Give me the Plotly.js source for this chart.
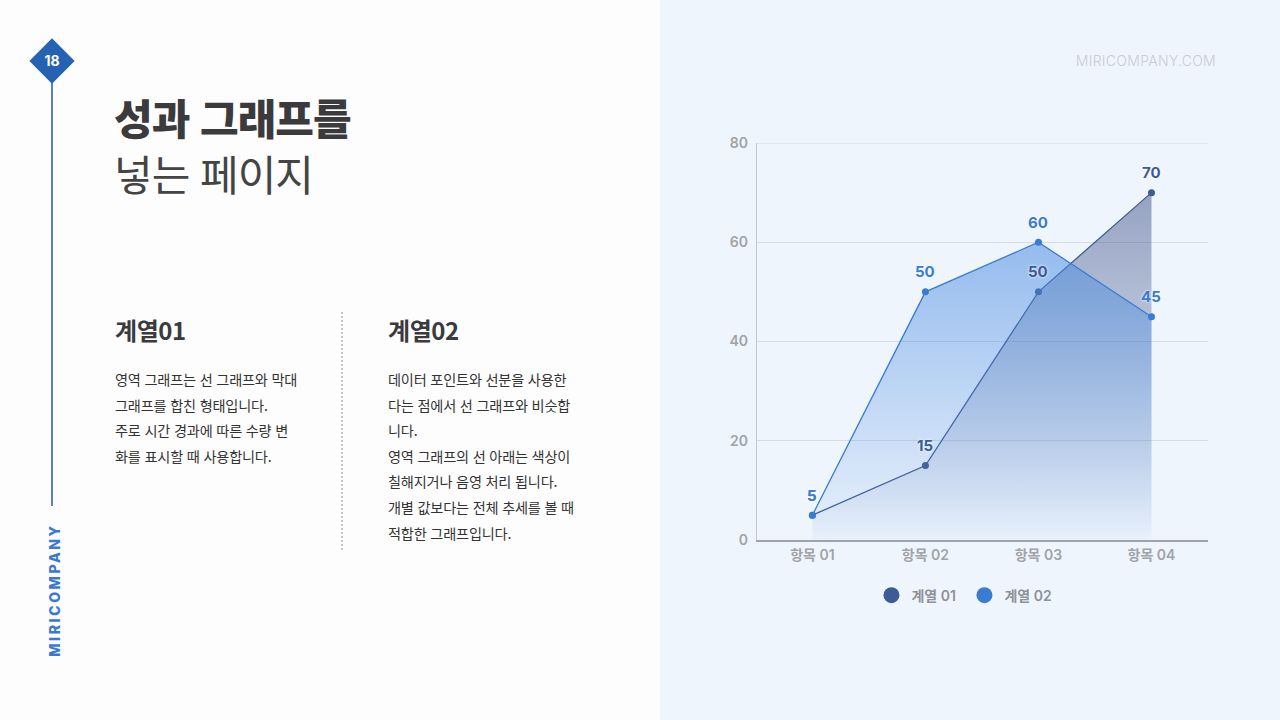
<!DOCTYPE html>
<html lang="ko">
<head>
<meta charset="utf-8">
<script src="https://cdn.plot.ly/plotly-3.0.1.min.js"></script>
<style>
  html, body { margin: 0; padding: 0; }
  body {
    width: 1280px; height: 720px; overflow: hidden; position: relative;
    background: #fdfdfe;
    font-family: "Noto Sans CJK KR", "Noto Sans", sans-serif;
    color: #3a3a3a;
  }
  .right-panel { position: absolute; left: 660px; top: 0; width: 620px; height: 720px; background: #eff5fd; }
  .rule { position: absolute; left: 51px; top: 70px; width: 2px; height: 436px; background: #5b80c9; }
  .diamond {
    position: absolute; left: 36px; top: 45px; width: 32px; height: 32px;
    background: #2563b2; transform: rotate(45deg);
  }
  .page-no {
    position: absolute; left: 32px; top: 51px; width: 40px; line-height: 22px; padding-top: 1px;
    text-align: center; color: #fff; font: 700 14px Inter, "Noto Sans", sans-serif;
  }
  .brand {
    position: absolute; left: 54px; top: 590px; transform: translate(-50%, -50%) rotate(-90deg);
    color: #3b79cf; font: 800 14px Inter, "Noto Sans", sans-serif; letter-spacing: 2.6px; white-space: nowrap;
  }
  .site {
    position: absolute; right: 64px; top: 52px; color: #c8ccd4;
    font: 300 14px Inter, "Noto Sans", sans-serif; letter-spacing: 0.3px;
  }
  .title1 { position: absolute; left: 114px; top: 92px; font-size: 42px; font-weight: 800; line-height: 50px; color: #3b3b3d; letter-spacing: -1px; }
  .title2 { position: absolute; left: 114px; top: 148px; font-size: 42px; font-weight: 400; line-height: 50px; color: #444; letter-spacing: -1px; }
  .col { position: absolute; top: 312px; }
  .col h2 { margin: 0; font-size: 24px; font-weight: 700; line-height: 36px; color: #3b3b3d; letter-spacing: -0.4px; }
  .col p { margin: 19px 0 0 0; font-size: 14.2px; line-height: 25.6px; color: #333; letter-spacing: -0.2px; }
  .divider { position: absolute; left: 341px; top: 312px; height: 238px; border-left: 2px dotted #c3c6cc; }
  #chart { position: absolute; left: 660px; top: 0; width: 620px; height: 720px; }
</style>
</head>
<body>
<div class="right-panel"></div>
<div class="rule"></div>
<div class="diamond"></div>
<div class="page-no">18</div>
<div class="brand">MIRICOMPANY</div>
<div class="site">MIRICOMPANY.COM</div>

<div class="title1">성과 그래프를</div>
<div class="title2">넣는 페이지</div>

<div class="col" style="left:115px; width:220px;">
  <h2>계열01</h2>
  <p>영역 그래프는 선 그래프와 막대<br>그래프를 합친 형태입니다.<br>주로 시간 경과에 따른 수량 변<br>화를 표시할 때 사용합니다.</p>
</div>
<div class="divider"></div>
<div class="col" style="left:388px; width:220px;">
  <h2>계열02</h2>
  <p>데이터 포인트와 선분을 사용한<br>다는 점에서 선 그래프와 비슷합<br>니다.<br>영역 그래프의 선 아래는 색상이<br>칠해지거나 음영 처리 됩니다.<br>개별 값보다는 전체 추세를 볼 때<br>적합한 그래프입니다.</p>
</div>

<div id="chart"></div>

<script>
// chart data
const categories = ['항목 01', '항목 02', '항목 03', '항목 04'];
const series1 = [5, 15, 50, 70];
const series2 = [5, 50, 60, 45];
const seriesNames = ['계열 01', '계열 02'];
const yTicks = [0, 20, 40, 60, 80];

const navy = '#3f5b96';
const blue = '#3a7cd4';
const fontFamily = 'Inter, "Noto Sans CJK KR", sans-serif';

function areaTrace(values, name, color, bottomColor, topColor) {
    return {
        x: categories,
        y: values,
        name: name,
        type: 'scatter',
        mode: 'lines+markers',
        fill: 'tozeroy',
        fillgradient: {
            type: 'vertical',
            start: 0,
            stop: Math.max(...values),
            colorscale: [[0, bottomColor], [1, topColor]]
        },
        line: { color: color, width: 1.3 },
        marker: { color: color, size: 7 },
        showlegend: false,
        hoverinfo: 'skip'
    };
}

// legend-only entries, drawn as plain circles
function legendTrace(name, color) {
    return {
        x: [null], y: [null], name: name, type: 'scatter', mode: 'markers',
        marker: { color: color, size: 16 }, showlegend: true
    };
}

const data = [
    areaTrace(series1, seriesNames[0], navy, 'rgba(60,80,135,0)', 'rgba(60,80,135,0.5)'),
    areaTrace(series2, seriesNames[1], blue, 'rgba(74,140,225,0.04)', 'rgba(74,140,225,0.55)'),
    legendTrace(seriesNames[0], navy),
    legendTrace(seriesNames[1], blue)
];

// value labels above each point
function labels(values, color) {
    return values.map((v, i) => ({
        x: categories[i], y: v, text: String(v),
        showarrow: false, yshift: 20,
        font: { family: fontFamily, size: 15, color: color, weight: 700, shadow: '0px 0px 3px #ffffff' }
    }));
}

const layout = {
    width: 620,
    height: 720,
    paper_bgcolor: 'rgba(0,0,0,0)',
    plot_bgcolor: 'rgba(0,0,0,0)',
    margin: { l: 97, r: 72, t: 143, b: 180, pad: 0 },
    font: { family: fontFamily, color: '#9a9da3' },
    xaxis: {
        type: 'category',
        range: [-0.49, 3.5],
        showline: true,
        linecolor: '#9ea3ae',
        linewidth: 1.5,
        showgrid: false,
        ticks: '',
        tickfont: { size: 14, color: '#a0a3a8', weight: 600 },
        ticklabelstandoff: 2,
        fixedrange: true
    },
    yaxis: {
        range: [0, 80],
        tickvals: yTicks,
        showline: true,
        linecolor: '#c2c7d0',
        linewidth: 1.2,
        gridcolor: '#d6dbe6',
        gridwidth: 1.2,
        zeroline: false,
        ticks: '',
        tickfont: { size: 14, color: '#a0a3a8', weight: 600 },
        ticklabelstandoff: 5,
        fixedrange: true
    },
    shapes: [{
        type: 'line', xref: 'paper', x0: 0, x1: 1,
        yref: 'y', y0: yTicks[yTicks.length - 1], y1: yTicks[yTicks.length - 1],
        line: { color: '#d0d5e0', width: 1.2 }
    }],
    annotations: labels(series1, navy).concat(labels(series2, blue)),
    legend: {
        orientation: 'h',
        x: 0.46,
        xanchor: 'center',
        y: -0.14,
        yanchor: 'middle',
        font: { size: 14, color: '#8d9199', weight: 600 },
        itemwidth: 30,
        entrywidth: 48,
        tracegroupgap: 0
    },
    showlegend: true
};

Plotly.newPlot('chart', data, layout, { displayModeBar: false, staticPlot: true });
</script>
</body>
</html>
